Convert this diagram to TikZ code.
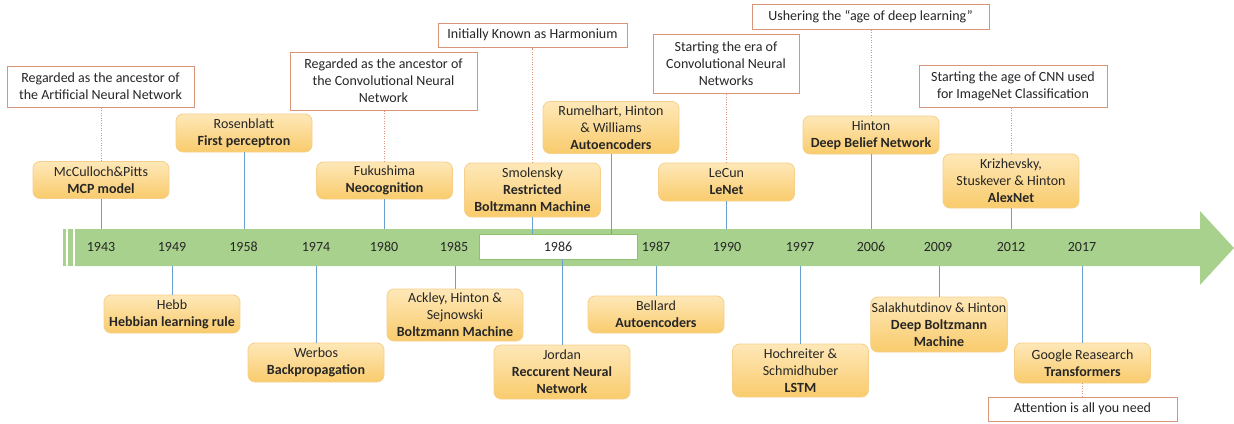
\documentclass[tikz,border=0pt]{standalone}
\usepackage{fontspec}
\setmainfont{Carlito}
\definecolor{band}{HTML}{A9D18E}
\definecolor{bandedge}{HTML}{8FBF72}
\definecolor{evtop}{HTML}{FEE8B8}
\definecolor{evbot}{HTML}{F9CB6C}
\definecolor{evedge}{HTML}{F6D08A}
\definecolor{noteedge}{HTML}{D9957C}
\definecolor{linkblue}{HTML}{6A9FD4}
\definecolor{txt}{HTML}{262626}
\tikzset{
  event/.style={draw=evedge, line width=0.8pt, rounded corners=7pt, top color=evtop, bottom color=evbot,
    minimum width=136pt, align=center, inner sep=1pt, text=txt,
    font=\fontsize{14pt}{17pt}\selectfont},
  note/.style={draw=noteedge, line width=1pt, fill=white, align=center, inner sep=1pt, text=txt,
    font=\fontsize{14pt}{17pt}\selectfont},
  yearlbl/.style={text=txt, font=\fontsize{14pt}{17pt}\selectfont, inner sep=0pt},
  link/.style={draw=linkblue, line width=1pt},
  dlink/.style={draw=noteedge, line width=0.9pt, dash pattern=on 1pt off 1.5pt},
}
\begin{document}
\begin{tikzpicture}[x=1pt,y=-1pt]
\useasboundingbox (0,0) rectangle (1234,423);
% timeline arrow
\fill[band] (63,229) rectangle (66,266);
\fill[band] (68.3,229) rectangle (73,266);
\fill[band] (75,229) -- (1200,229) -- (1200,211) -- (1234,248) -- (1200,285) -- (1200,266) -- (75,266) -- cycle;
\coordinate (btop) at (0,229);
\coordinate (bbot) at (0,266);
% years
\node[yearlbl] (y1943) at (101,247) {1943};
\node[yearlbl] (y1949) at (172,247) {1949};
\node[yearlbl] (y1958) at (243.5,247) {1958};
\node[yearlbl] (y1974) at (316,247) {1974};
\node[yearlbl] (y1980) at (384,247) {1980};
\node[yearlbl] (y1985) at (454,247) {1985};
\node[draw=bandedge, line width=0.8pt, fill=white, minimum width=158pt, minimum height=25pt, inner sep=0pt, text=txt, font=\fontsize{14pt}{17pt}\selectfont] (y1986) at (558,246.5) {1986};
\node[yearlbl] (y1987) at (656,247) {1987};
\node[yearlbl] (y1990) at (727,247) {1990};
\node[yearlbl] (y1997) at (800,247) {1997};
\node[yearlbl] (y2006) at (871,247) {2006};
\node[yearlbl] (y2009) at (938,247) {2009};
\node[yearlbl] (y2012) at (1011,247) {2012};
\node[yearlbl] (y2017) at (1082,247) {2017};
% top events
\node[event, minimum height=37pt] (mcp) at (101,180) {McCulloch\&Pitts\\\textbf{MCP model}};
\node[event, minimum height=38pt] (rosen) at (244,133) {Rosenblatt\\\textbf{First perceptron}};
\node[event, minimum height=37pt] (fuku) at (384.5,180.5) {Fukushima\\\textbf{Neocognition}};
\node[event, minimum height=54pt] (smol) at (532.5,190) {Smolensky\\\textbf{Restricted}\\\textbf{Boltzmann Machine}};
\node[event, minimum height=52pt] (rum) at (611,127.5) {Rumelhart, Hinton\\\& Williams\\\textbf{Autoencoders}};
\node[event, minimum height=38pt] (lecun) at (726.5,182) {LeCun\\\textbf{LeNet}};
\node[event, minimum height=38pt] (dbn) at (871,135) {Hinton\\\textbf{Deep Belief Network}};
\node[event, minimum height=54pt] (krizh) at (1011,181) {Krizhevsky,\\Stuskever \& Hinton\\\textbf{AlexNet}};
% bottom events
\node[event, minimum height=38pt] (hebb) at (172,314) {Hebb\\\textbf{Hebbian learning rule}};
\node[event, minimum height=39pt] (werbos) at (316,362.5) {Werbos\\\textbf{Backpropagation}};
\node[event, minimum height=52pt] (ackley) at (455,315) {Ackley, Hinton \&\\Sejnowski\\\textbf{Boltzmann Machine}};
\node[event, minimum height=54pt] (jordan) at (562,372) {Jordan\\\textbf{Reccurent Neural}\\\textbf{Network}};
\node[event, minimum height=37pt] (bellard) at (656,314.5) {Bellard\\\textbf{Autoencoders}};
\node[event, minimum height=53pt] (hoch) at (800.5,370.5) {Hochreiter \&\\Schmidhuber\\\textbf{LSTM}};
\node[event, minimum height=55pt] (salakh) at (939,324.5) {Salakhutdinov \& Hinton\\\textbf{Deep Boltzmann}\\\textbf{Machine}};
\node[event, minimum height=40pt] (google) at (1082.5,363) {Google Reasearch\\\textbf{Transformers}};
% notes
\node[note, minimum width=187pt, minimum height=41pt] (n1) at (100.5,86.5) {Regarded as the ancestor of\\the Artificial Neural Network};
\node[note, minimum width=187pt, minimum height=58pt] (n2) at (383.5,81) {Regarded as the ancestor of\\the Convolutional Neural\\Network};
\node[note, minimum width=189pt, minimum height=24pt] (n3) at (532.5,35) {Initially Known as Harmonium};
\node[note, minimum width=146pt, minimum height=59pt] (n4) at (726,63.5) {Starting the era of\\Convolutional Neural\\Networks};
\node[note, minimum width=237pt, minimum height=25pt] (n5) at (870.5,16.5) {Ushering the “age of deep learning”};
\node[note, minimum width=188pt, minimum height=42pt] (n6) at (1013,86) {Starting the age of CNN used\\for ImageNet Classification};
\node[note, minimum width=189pt, minimum height=24pt] (n7) at (1082.5,409) {Attention is all you need};
% connectors to the timeline
\draw[link] (mcp.south) -- (mcp.south |- btop);
\draw[link] (rosen.south) -- (rosen.south |- btop);
\draw[link] (fuku.south) -- (fuku.south |- btop);
\draw[link] (smol.south) -- (smol.south |- y1986.north);
\draw[link] (rum.south) -- (rum.south |- y1986.north);
\draw[link] (lecun.south) -- (lecun.south |- btop);
\draw[link] (dbn.south) -- (dbn.south |- btop);
\draw[link] (krizh.south) -- (krizh.south |- btop);
\draw[link] (hebb.north) -- (hebb.north |- bbot);
\draw[link] (werbos.north) -- (werbos.north |- bbot);
\draw[link] (ackley.north) -- (ackley.north |- bbot);
\draw[link] (jordan.north) -- (jordan.north |- y1986.south);
\draw[link] (bellard.north) -- (bellard.north |- bbot);
\draw[link] (hoch.north) -- (hoch.north |- bbot);
\draw[link] (salakh.north) -- (salakh.north |- bbot);
\draw[link] (google.north) -- (google.north |- bbot);
% dotted connectors to notes
\draw[dlink] (mcp.north) -- (mcp.north |- n1.south);
\draw[dlink] (fuku.north) -- (fuku.north |- n2.south);
\draw[dlink] (smol.north) -- (smol.north |- n3.south);
\draw[dlink] (lecun.north) -- (lecun.north |- n4.south);
\draw[dlink] (dbn.north) -- (dbn.north |- n5.south);
\draw[dlink] (krizh.north) -- (krizh.north |- n6.south);
\draw[dlink] (google.south) -- (google.south |- n7.north);
\end{tikzpicture}
\end{document}
